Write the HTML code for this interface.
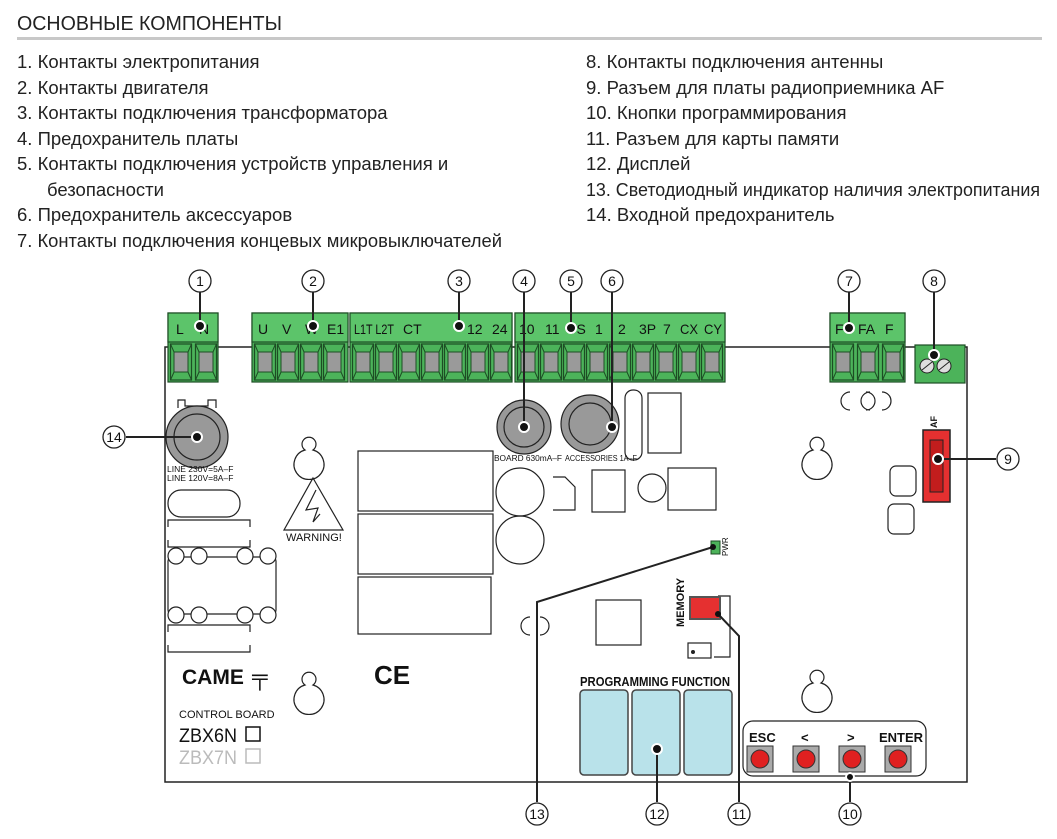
<!DOCTYPE html>
<html><head><meta charset="utf-8"><style>
body{margin:0;background:#fff;width:1057px;height:839px;overflow:hidden}
svg{display:block}
.t{font-family:"Liberation Sans Narrow","Liberation Sans",sans-serif;}
</style></head><body>
<svg width="1057" height="839" viewBox="0 0 1057 839" xmlns="http://www.w3.org/2000/svg">
<defs>
<g id="sock"><rect x="0.5" y="344" width="21" height="36" fill="#4cb35a" stroke="#1d4d24" stroke-width="1.2"/><path d="M0.5 344 L4 352 L18 352 L21.5 344 M4 372 L0.5 380 M18 372 L21.5 380" stroke="#1d4d24" fill="none"/><rect x="4" y="352" width="14" height="20" fill="#9a9a9a" stroke="#1d4d24"/></g>
</defs>
<g class="t" font-size="18.5" fill="#222">
<text x="17" y="30" font-size="20" textLength="265" lengthAdjust="spacingAndGlyphs">ОСНОВНЫЕ КОМПОНЕНТЫ</text>
<rect x="17" y="37" width="1025" height="3" fill="#c8c8c8"/>
<text x="17" y="68">1.  Контакты электропитания</text>
<text x="17" y="94">2.  Контакты двигателя</text>
<text x="17" y="119">3.  Контакты подключения трансформатора</text>
<text x="17" y="145">4.  Предохранитель платы</text>
<text x="17" y="170">5.  Контакты подключения устройств управления и</text>
<text x="47" y="196">безопасности</text>
<text x="17" y="221">6.  Предохранитель аксессуаров</text>
<text x="17" y="247" textLength="485" lengthAdjust="spacingAndGlyphs">7.  Контакты подключения концевых микровыключателей</text>
<text x="586" y="68">8.  Контакты подключения антенны</text>
<text x="586" y="94">9.  Разъем для платы радиоприемника AF</text>
<text x="586" y="119">10. Кнопки программирования</text>
<text x="586" y="145">11. Разъем для карты памяти</text>
<text x="586" y="170">12. Дисплей</text>
<text x="586" y="196" textLength="454" lengthAdjust="spacingAndGlyphs">13. Светодиодный индикатор наличия электропитания</text>
<text x="586" y="221">14. Входной предохранитель</text>
</g>
<!-- board -->
<path d="M165 782 V347 H967 V782 Z" fill="none" stroke="#222" stroke-width="1.5"/>
<g stroke="#1d4d24" stroke-width="1.2">
<rect x="168" y="313" width="50" height="69" fill="#4cb35a"/><rect x="168" y="313" width="50" height="29" fill="#5cc46a"/>
<rect x="252" y="313" width="96" height="69" fill="#4cb35a"/><rect x="252" y="313" width="96" height="29" fill="#5cc46a"/>
<rect x="350" y="313" width="162" height="69" fill="#4cb35a"/><rect x="350" y="313" width="162" height="29" fill="#5cc46a"/>
<rect x="515" y="313" width="210" height="69" fill="#4cb35a"/><rect x="515" y="313" width="210" height="29" fill="#5cc46a"/>
<rect x="830" y="313" width="75" height="69" fill="#4cb35a"/><rect x="830" y="313" width="75" height="29" fill="#5cc46a"/>
<rect x="915" y="345" width="50" height="38" fill="#4cb35a"/>
</g>
<g>
<use href="#sock" x="170"/><use href="#sock" x="195"/>
<use href="#sock" x="254"/><use href="#sock" x="277"/><use href="#sock" x="300"/><use href="#sock" x="323"/>
<use href="#sock" x="352"/><use href="#sock" x="375"/><use href="#sock" x="398"/><use href="#sock" x="421"/><use href="#sock" x="444"/><use href="#sock" x="467"/><use href="#sock" x="490"/>
<use href="#sock" x="517"/><use href="#sock" x="540"/><use href="#sock" x="563"/><use href="#sock" x="586"/><use href="#sock" x="609"/><use href="#sock" x="632"/><use href="#sock" x="655"/><use href="#sock" x="678"/><use href="#sock" x="701"/>
<use href="#sock" x="832"/><use href="#sock" x="857"/><use href="#sock" x="882"/>
</g>
<g fill="#ddd" stroke="#222"><circle cx="927" cy="366" r="7"/><circle cx="944" cy="366" r="7"/></g>
<path d="M922 370 L932 362 M939 370 L949 362" stroke="#222"/>
<g class="t" font-size="14" fill="#111">
<text x="176" y="334">L</text><text x="199" y="334">N</text>
<text x="258" y="334">U</text><text x="282" y="334">V</text><text x="305" y="334">W</text><text x="327" y="334">E1</text>
<text x="354" y="334" textLength="40" lengthAdjust="spacingAndGlyphs">L1T L2T</text><text x="403" y="334">CT</text><text x="467" y="334">12</text><text x="492" y="334">24</text>
<text x="519" y="334">10</text><text x="545" y="334">11</text><text x="568" y="334">TS</text><text x="595" y="334">1</text><text x="618" y="334">2</text><text x="639" y="334">3P</text><text x="663" y="334">7</text><text x="680" y="334" textLength="18" lengthAdjust="spacingAndGlyphs">CX</text><text x="704" y="334" textLength="18" lengthAdjust="spacingAndGlyphs">CY</text>
<text x="835" y="334">F</text><text x="858" y="334">FA</text><text x="885" y="334">F</text>
</g>
<g fill="none" stroke="#222" stroke-width="1.2">
<path d="M178 408 V400 H185 V406 H208 V400 H216 V408"/>
<circle cx="197" cy="437" r="31" fill="#999"/><circle cx="197" cy="437" r="23"/>
<rect x="168" y="490" width="72" height="27" rx="13"/>
<path d="M168 527 V520 H250 V527 M168 540 V547 H250 V540"/>
<rect x="168" y="557" width="108" height="57" rx="4"/>
<circle cx="176" cy="556" r="8" fill="#fff"/><circle cx="199" cy="556" r="8" fill="#fff"/><circle cx="245" cy="556" r="8" fill="#fff"/><circle cx="268" cy="556" r="8" fill="#fff"/>
<circle cx="176" cy="615" r="8" fill="#fff"/><circle cx="199" cy="615" r="8" fill="#fff"/><circle cx="245" cy="615" r="8" fill="#fff"/><circle cx="268" cy="615" r="8" fill="#fff"/>
<path d="M168 632 V625 H250 V632 M168 645 V652 H250 V645"/>
<path d="M305 450 a7 7 0 1 1 8 0 a15 15 0 1 1 -8 0z"/>
<path d="M305 685 a7 7 0 1 1 8 0 a15 15 0 1 1 -8 0z"/>
<path d="M813 450 a7 7 0 1 1 8 0 a15 15 0 1 1 -8 0z"/>
<path d="M813 683 a7 7 0 1 1 8 0 a15 15 0 1 1 -8 0z"/>
<path d="M313 478 L343 530 L284 530 Z"/>
<path d="M316 490 L306 510 L318 508 L313 522 L320 514"/>
<rect x="358" y="451" width="135" height="60"/><rect x="358" y="514" width="135" height="60"/><rect x="358" y="577" width="133" height="57"/>
<circle cx="524" cy="427" r="27" fill="#999"/><circle cx="524" cy="427" r="20"/>
<circle cx="590" cy="424" r="29" fill="#999"/><circle cx="590" cy="424" r="21"/>
<rect x="625" y="390" width="17" height="70" rx="8"/><rect x="648" y="393" width="33" height="60"/>
<circle cx="520" cy="492" r="24"/><circle cx="520" cy="540" r="24"/>
<path d="M553 477 L565 477 L575 487 V510 H553"/><rect x="592" y="470" width="33" height="42"/><circle cx="652" cy="488" r="14"/><rect x="668" y="468" width="48" height="42"/>
<path d="M850 392 a9 9 0 0 0 0 18 M866 392 a9 9 0 0 1 0 18 M870 392 a9 9 0 0 0 0 18 M882 392 a9 9 0 0 1 0 18"/>
<rect x="890" y="466" width="26" height="30" rx="6"/><rect x="888" y="504" width="26" height="30" rx="6"/>
<rect x="596" y="600" width="45" height="45"/>
<path d="M530 617 a8 8 0 0 0 0 18 M540 617 a8 8 0 0 1 0 18"/>
<path d="M718 596 H730 V657 H714"/><rect x="688" y="643" width="23" height="15"/>
<rect x="743" y="721" width="183" height="55" rx="10"/>
</g>
<circle cx="693" cy="652" r="2" fill="#222"/>
<rect x="923" y="430" width="27" height="72" fill="#e53030" stroke="#222" stroke-width="1.5"/>
<rect x="930" y="440" width="13" height="52" fill="#c21d1d" stroke="#222"/>
<rect x="690" y="597" width="30" height="22" fill="#e53030" stroke="#555" stroke-width="2"/>
<rect x="711" y="541" width="9" height="13" fill="#4cb35a" stroke="#1d4d24"/>
<g fill="#b9e2ea" stroke="#444" stroke-width="1.5">
<rect x="580" y="690" width="48" height="85" rx="4"/><rect x="632" y="690" width="48" height="85" rx="4"/><rect x="684" y="690" width="48" height="85" rx="4"/>
</g>
<g fill="#aaa" stroke="#333">
<rect x="747" y="746" width="26" height="26"/><rect x="793" y="746" width="26" height="26"/><rect x="839" y="746" width="26" height="26"/><rect x="885" y="746" width="26" height="26"/>
</g>
<g fill="#e02020" stroke="#333"><circle cx="760" cy="759" r="9"/><circle cx="806" cy="759" r="9"/><circle cx="852" cy="759" r="9"/><circle cx="898" cy="759" r="9"/></g>
<g class="t" fill="#111">
<text x="167" y="472" font-size="8.5">LINE  230V=5A–F</text><text x="167" y="481" font-size="8.5">LINE  120V=8A–F</text>
<text x="286" y="541" font-size="11">WARNING!</text>
<text x="494" y="461" font-size="8" textLength="68" lengthAdjust="spacingAndGlyphs">BOARD 630mA–F</text><text x="565" y="461" font-size="8" textLength="72" lengthAdjust="spacingAndGlyphs">ACCESSORIES 1A–F</text>
<text x="182" y="684" font-size="21" font-weight="bold" font-family="Liberation Sans">CAME</text>
<text x="252" y="684" font-size="22" font-weight="bold">╤</text>
<text x="374" y="684" font-size="26" font-weight="bold" font-family="Liberation Sans">CE</text>
<text x="179" y="718" font-size="11">CONTROL BOARD</text>
<text x="179" y="742" font-size="19" textLength="58" lengthAdjust="spacingAndGlyphs">ZBX6N</text><rect x="246" y="727" width="14" height="14" fill="none" stroke="#111" stroke-width="1.5"/>
<text x="179" y="764" font-size="19" fill="#bbb" textLength="58" lengthAdjust="spacingAndGlyphs">ZBX7N</text><rect x="246" y="749" width="14" height="14" fill="none" stroke="#bbb" stroke-width="1.5"/>
<text x="580" y="686" font-size="13" font-weight="bold" textLength="150" lengthAdjust="spacingAndGlyphs">PROGRAMMING  FUNCTION</text>
<text x="749" y="742" font-size="13" font-weight="bold">ESC</text><text x="801" y="742" font-size="13" font-weight="bold">&lt;</text><text x="847" y="742" font-size="13" font-weight="bold">&gt;</text><text x="879" y="742" font-size="13" font-weight="bold">ENTER</text>
<text x="0" y="0" font-size="11" font-weight="bold" transform="translate(684,627) rotate(-90)">MEMORY</text>
<text x="0" y="0" font-size="8" transform="translate(728,556) rotate(-90)">PWR</text>
<text x="0" y="0" font-size="9" font-weight="bold" transform="translate(937,428) rotate(-90)">AF</text>
</g>
<g stroke="#222" stroke-width="2" fill="none">
<path d="M200 292 V326 M313 292 V326 M459 292 V326 M524 292 V427 M571 292 V328 M612 292 V427 M849 292 V328 M934 292 V355"/>
<path d="M126 437 H197 M996 459 H938"/>
<path d="M537 802 V602 L713 547 M657 802 V749 M739 802 V636 L718 614 M850 802 V777"/>
</g>
<g fill="#fff" stroke="#222" stroke-width="1.3">
<circle cx="200" cy="281" r="11"/><circle cx="313" cy="281" r="11"/><circle cx="459" cy="281" r="11"/><circle cx="524" cy="281" r="11"/><circle cx="571" cy="281" r="11"/><circle cx="612" cy="281" r="11"/><circle cx="849" cy="281" r="11"/><circle cx="934" cy="281" r="11"/>
<circle cx="114" cy="437" r="11"/><circle cx="1008" cy="459" r="11"/>
<circle cx="537" cy="814" r="11"/><circle cx="657" cy="814" r="11"/><circle cx="739" cy="814" r="11"/><circle cx="850" cy="814" r="11"/>
</g>
<g fill="#111" stroke="#fff" stroke-width="2">
<circle cx="200" cy="326" r="5"/><circle cx="313" cy="326" r="5"/><circle cx="459" cy="326" r="5"/><circle cx="524" cy="427" r="5"/><circle cx="571" cy="328" r="5"/><circle cx="612" cy="427" r="5"/><circle cx="849" cy="328" r="5"/><circle cx="934" cy="355" r="5"/><circle cx="197" cy="437" r="5"/><circle cx="938" cy="459" r="5"/><circle cx="657" cy="749" r="5"/><circle cx="850" cy="777" r="4"/>
</g>
<circle cx="713" cy="547" r="3" fill="#111"/><circle cx="718" cy="614" r="3" fill="#111"/>
<g class="t" font-size="14" fill="#111" text-anchor="middle">
<text x="200" y="286">1</text><text x="313" y="286">2</text><text x="459" y="286">3</text><text x="524" y="286">4</text><text x="571" y="286">5</text><text x="612" y="286">6</text><text x="849" y="286">7</text><text x="934" y="286">8</text>
<text x="114" y="442">14</text><text x="1008" y="464">9</text>
<text x="537" y="819">13</text><text x="657" y="819">12</text><text x="739" y="819">11</text><text x="850" y="819">10</text>
</g>
</svg>
</body></html>
